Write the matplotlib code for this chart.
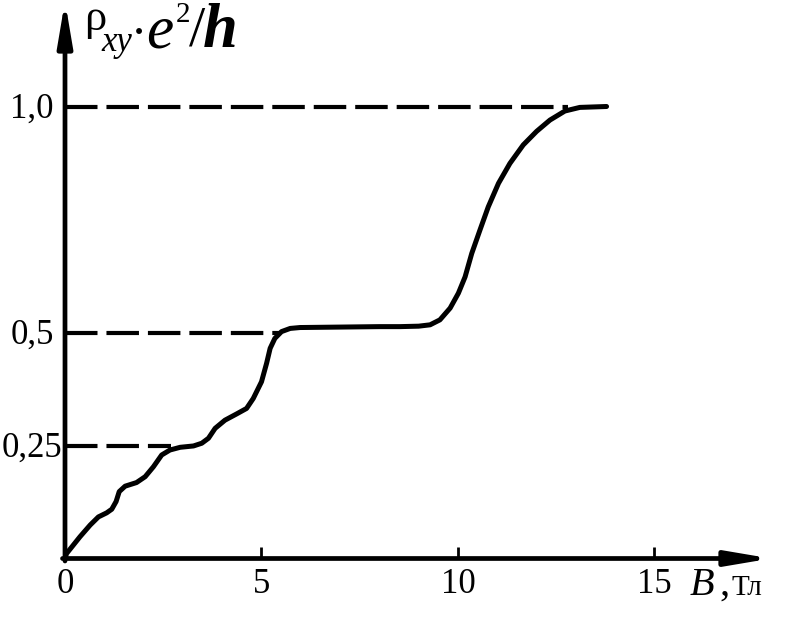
import matplotlib
matplotlib.use('Agg')
import matplotlib.pyplot as plt

# ---- data ----
B = [0.0, 0.04, 0.38, 0.64, 0.85, 1.06, 1.19, 1.30, 1.38, 1.53, 1.82, 2.04, 2.25,
     2.46, 2.67, 2.93, 3.27, 3.48, 3.65, 3.82, 4.07, 4.37, 4.62, 4.79, 5.00, 5.13,
     5.22, 5.34, 5.51, 5.73, 5.98, 7.0, 8.0, 8.52, 9.0, 9.29, 9.54, 9.80, 10.01,
     10.18, 10.35, 10.56, 10.77, 11.03, 11.32, 11.66, 12.00, 12.34, 12.72, 13.10, 13.78]
rho = [0.0, 0.011, 0.048, 0.074, 0.092, 0.101, 0.109, 0.126, 0.148, 0.160, 0.168, 0.181, 0.203,
       0.229, 0.240, 0.246, 0.249, 0.255, 0.266, 0.288, 0.306, 0.320, 0.332, 0.354, 0.391, 0.432,
       0.465, 0.487, 0.502, 0.509, 0.511, 0.512, 0.513, 0.513, 0.514, 0.517, 0.528, 0.554, 0.587,
       0.623, 0.675, 0.727, 0.778, 0.830, 0.874, 0.915, 0.945, 0.970, 0.990, 0.998, 1.000]

levels = [0.25, 0.5, 1.0]
level_labels = ['0,25', '0,5', '1,0']
level_ends = [2.7, 5.5, 12.8]

xticks = [0, 5, 10, 15]
xtick_labels = ['0', '5', '10', '15']

# ---- layout ----
W, H = 810, 621
X0, Y0 = 65.0, 558.5      # pixel of origin
SX, SY = 39.3, 452.0      # pixels per unit

fig = plt.figure(figsize=(W / 100, H / 100), dpi=100)
ax = fig.add_axes([0, 0, 1, 1])
ax.set_xlim(-X0 / SX, (W - X0) / SX)
ax.set_ylim(-(H - Y0) / SY, Y0 / SY)
ax.axis('off')

serif = 'Liberation Serif'
K = 'black'

def fx(px):
    return px / W

def fy(py):
    return 1 - py / H

# axes with arrows
arrow_kw = dict(arrowstyle='-|>,head_length=1.3,head_width=0.22', lw=3.4, color=K,
                shrinkA=0, shrinkB=0, mutation_scale=20)
ax.annotate('', xy=(0, (Y0 - 1) / SY), xytext=(0, -2.5 / SY), arrowprops=arrow_kw)
ax.annotate('', xy=((771 - X0) / SX, 0), xytext=(-2.5 / SX, 0), arrowprops=arrow_kw)

# tick marks (inward) and labels
for v, lab in zip(xticks, xtick_labels):
    if v != 0:
        ax.plot([v, v], [0, 12 / SY], color=K, lw=2.0, solid_capstyle='butt')
    ax.text(v, -(593 - Y0) / SY, lab, ha='center', va='baseline',
            fontsize=25, family=serif, color=K)

# dashed guide lines and level labels
for lv, lab, xe in zip(levels, level_labels, level_ends):
    ax.plot([0, xe], [lv, lv], color=K, lw=3.0, dashes=(7.8, 2.15), dash_capstyle='butt')
    ax.text((32 - X0) / SX, lv - 11 / SY, lab, ha='center', va='baseline',
            fontsize=25, family=serif, color=K)

# curve
ax.plot(B, rho, color=K, lw=3.6, solid_joinstyle='round', solid_capstyle='round')

# y label: rho_xy · e^2/h
fig.text(fx(84), fy(30), 'ρ', fontsize=32, family=serif, ha='left', va='baseline', color=K)
fig.text(fx(101), fy(51), 'xy', fontsize=25, family=serif, style='italic', ha='left', va='baseline', color=K)
fig.text(fx(139), fy(34), '·', fontsize=26, family=serif, fontweight='bold', ha='center', va='center', color=K)
fig.text(fx(146), fy(47), 'e', fontsize=44, family=serif, style='italic', ha='left', va='baseline', color=K)
fig.text(fx(176), fy(22), '2', fontsize=21, family=serif, ha='left', va='baseline', color=K)
fig.text(fx(189), fy(46), '/', fontsize=42, family=serif, ha='left', va='baseline', color=K)
fig.text(fx(203), fy(47), 'h', fontsize=45, family=serif, style='italic', fontweight='bold',
         ha='left', va='baseline', color=K)

# x label: B, Тл
fig.text(fx(690), fy(595), 'B', fontsize=29, family=serif, style='italic', ha='left', va='baseline', color=K)
fig.text(fx(719), fy(595), ',', fontsize=29, family=serif, ha='left', va='baseline', color=K)
fig.text(fx(731), fy(595), 'Тл', fontsize=21, family=serif, ha='left', va='baseline', color=K)

fig.savefig('out.png', dpi=100, facecolor='white')
